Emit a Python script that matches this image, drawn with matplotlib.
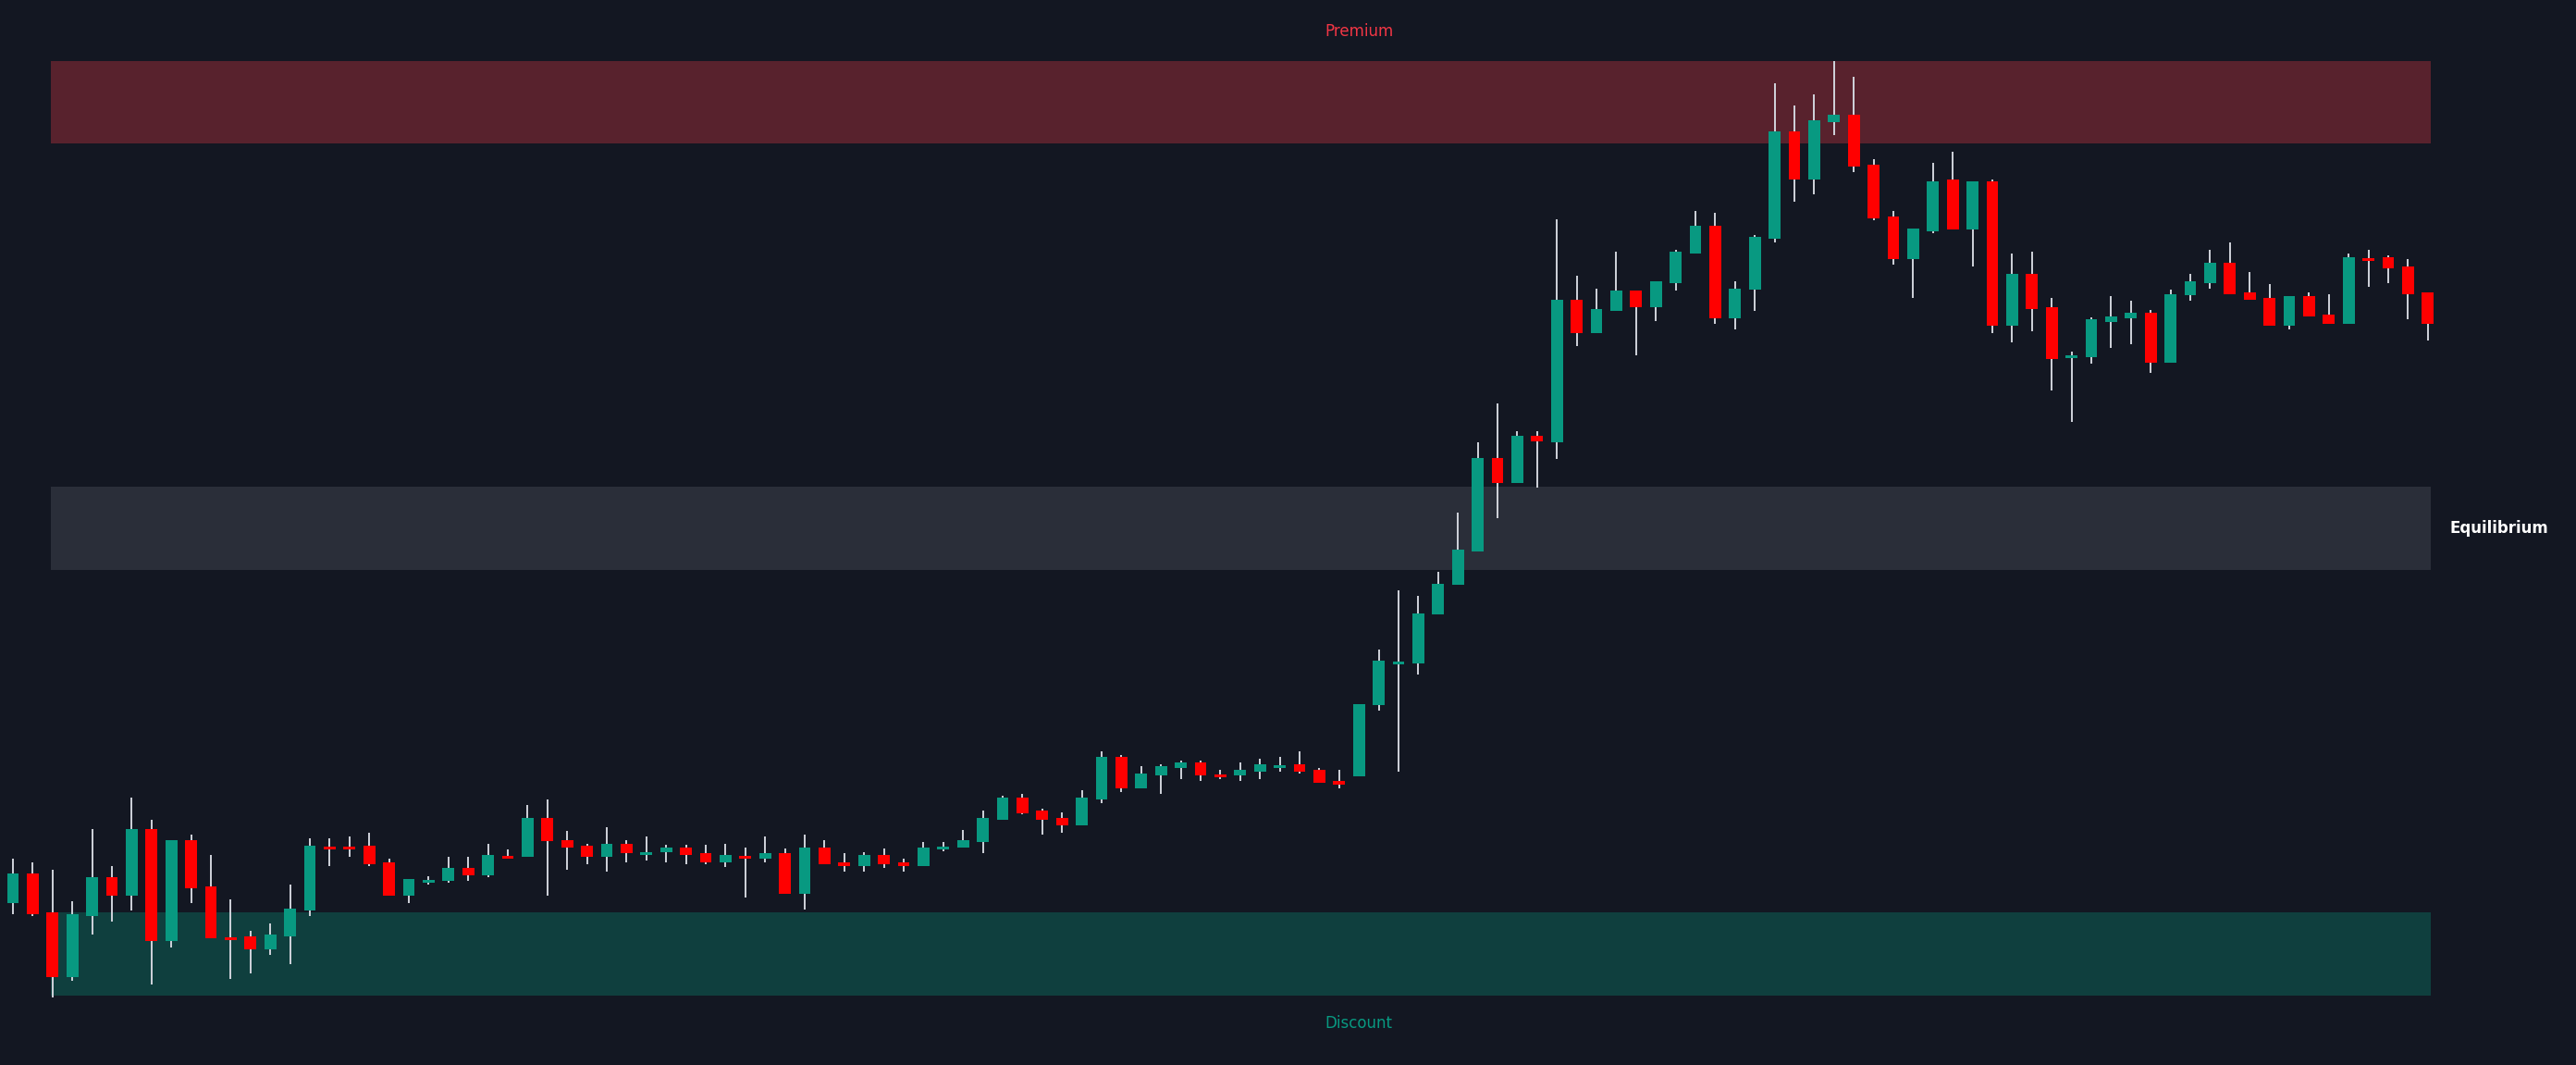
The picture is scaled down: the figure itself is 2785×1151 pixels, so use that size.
import matplotlib.pyplot as plt
import numpy as np

# candle readings (screen rows, top = 0); converted to price below
opens = [976, 944, 986, 1056, 990, 948, 968, 896, 1017, 908, 958, 1012, 1012, 1026, 1012, 984,
         914, 914, 914, 932, 968, 952, 952, 938, 946, 924, 926, 884, 908, 914, 926, 912, 922,
         921, 916, 922, 932, 924, 928, 922, 966, 916, 932, 936, 924, 932, 936, 916, 916, 910,
         886, 862, 876, 884, 892, 864, 818, 852, 838, 830, 824, 836, 838, 834, 828, 826, 832,
         844, 839, 762, 716, 717, 664, 632, 596, 495, 522, 471, 478, 324, 360, 336, 314, 332,
         306, 274, 244, 344, 313, 258, 142, 194, 132, 124, 178, 234, 280, 250, 194, 248, 196,
         352, 296, 332, 385, 386, 348, 344, 338, 392, 319, 306, 284, 316, 322, 352, 320, 340,
         350, 278, 278, 288, 316]
highs = [928, 932, 940, 974, 896, 936, 862, 886, 908, 902, 924, 972, 1006, 998, 956, 906,
         906, 904, 900, 928, 950, 947, 926, 926, 912, 918, 870, 864, 898, 912, 894, 908, 904,
         913, 913, 913, 912, 916, 904, 917, 902, 908, 922, 921, 917, 928, 910, 910, 897, 876,
         860, 858, 874, 878, 854, 812, 816, 828, 826, 822, 822, 832, 824, 820, 818, 812, 830,
         832, 761, 702, 638, 644, 618, 554, 478, 436, 466, 466, 237, 298, 312, 272, 314, 304,
         270, 228, 230, 304, 254, 90, 114, 102, 66, 83, 172, 228, 247, 176, 164, 196, 194,
         274, 272, 322, 380, 343, 320, 325, 335, 313, 296, 270, 262, 294, 307, 320, 316, 318,
         274, 270, 276, 280, 316]
lows = [988, 990, 1078, 1060, 1010, 996, 984, 1064, 1024, 976, 1014, 1058, 1052, 1032, 1042, 990,
        936, 926, 936, 968, 976, 956, 954, 952, 948, 928, 926, 968, 940, 934, 942, 932, 930,
        932, 934, 934, 937, 970, 932, 966, 983, 934, 942, 942, 938, 942, 936, 920, 916, 922,
        886, 880, 902, 900, 892, 868, 856, 852, 858, 842, 844, 842, 844, 842, 834, 836, 846,
        852, 839, 768, 834, 729, 664, 632, 596, 560, 522, 527, 496, 374, 360, 336, 384, 347,
        314, 274, 350, 356, 336, 262, 218, 210, 146, 186, 238, 286, 322, 252, 248, 288, 360,
        370, 358, 422, 456, 393, 376, 372, 403, 392, 325, 312, 318, 324, 352, 356, 342, 350,
        350, 310, 306, 345, 368]
closes = [944, 988, 1056, 988, 948, 968, 896, 1017, 908, 960, 1014, 1014, 1026, 1010, 982, 914,
          916, 916, 934, 968, 950, 950, 938, 946, 924, 926, 884, 909, 916, 926, 912, 922, 920,
          916, 924, 932, 924, 926, 922, 966, 916, 934, 936, 924, 934, 936, 916, 914, 908, 884,
          862, 879, 886, 892, 862, 818, 852, 836, 828, 824, 838, 838, 832, 826, 826, 834, 846,
          848, 761, 714, 714, 663, 631, 594, 495, 522, 471, 477, 324, 360, 334, 314, 332, 304,
          272, 244, 344, 312, 256, 142, 194, 130, 124, 180, 236, 280, 247, 196, 248, 196, 352,
          296, 334, 388, 384, 345, 342, 338, 392, 318, 304, 284, 318, 324, 352, 320, 342, 350,
          278, 280, 290, 318, 350]

H_PX = 1151
o = H_PX - np.array(opens)
h = H_PX - np.array(highs)
l = H_PX - np.array(lows)
c = H_PX - np.array(closes)

# zones: (label, bottom, top) in price
zones = [("Premium", 996, 1085), ("Equilibrium", 535, 625), ("Discount", 75, 165)]
zone_start, zone_end = 1.92, 122.15

BG = "#131722"
UP, DOWN = "#089981", "#ff0000"

fig = plt.figure(figsize=(27.85, 11.51), dpi=100, facecolor=BG)
ax = fig.add_axes([0, 0, 1, 1])
ax.set_facecolor(BG)

zcol = {"Premium": "#58222d", "Equilibrium": "#2a2e39", "Discount": "#0f3f3e"}
for name, lo, hi in zones:
    ax.fill_between([zone_start, zone_end], lo, hi, color=zcol[name], lw=0, zorder=0)

x = np.arange(len(o))
cols = np.where(c >= o, UP, DOWN)
ax.vlines(x, l, h, color="#d1d4dc", lw=1.4, zorder=1)
body_lo = np.minimum(o, c)
body_h = np.maximum(np.abs(c - o), 3)
ax.bar(x, body_h, bottom=body_lo - np.where(np.abs(c - o) < 3, 1.5, 0), width=0.6,
       color=cols, zorder=2, lw=0)

ax.text(68, 1117, "Premium", color="#f23645", fontsize=12, ha="center", va="center")
ax.text(68, 45, "Discount", color="#089981", fontsize=12, ha="center", va="center")
ax.text(125.6, 580, "Equilibrium", color="white", fontsize=12, fontweight="bold",
        ha="center", va="center")

ax.set_xlim(-14 / 21.4, (2785 - 14) / 21.4)
ax.set_ylim(0, H_PX)
ax.axis("off")

fig.savefig("out.png", dpi=100, facecolor=BG)
